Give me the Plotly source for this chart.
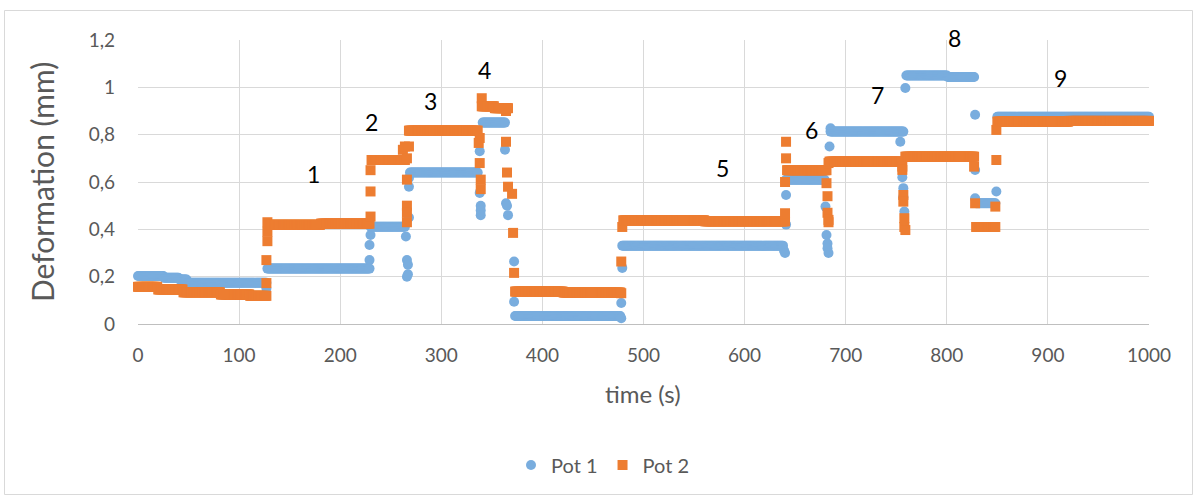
import plotly.graph_objects as go

# ---------------- data ----------------
# Pot 1: plateau segments (start s, end s, level mm)
pot1_step_start = [0, 26, 41, 49, 128, 230, 269, 341, 373, 479, 641, 685, 760, 801, 829, 850]
pot1_step_end = [25, 40, 48, 127, 229, 264, 336, 363, 477, 638, 679, 757, 800, 827, 848, 1000]
pot1_step_level = [0.203, 0.195, 0.188, 0.174, 0.234, 0.411, 0.64, 0.851, 0.034, 0.331,
                   0.61, 0.813, 1.05, 1.044, 0.51, 0.876]
# Pot 1: isolated readings during load changes
pot1_jump_t = [127, 229, 229, 230, 265, 266, 266, 267, 267, 268, 268, 268,
               338, 338, 339, 339, 339, 363, 364, 365, 366, 372, 372,
               478, 478, 479, 639, 640, 641, 641,
               680, 681, 682, 682, 683, 684, 685,
               754, 756, 757, 757, 758, 759, 828, 828, 828, 849]
pot1_jump_v = [0.15, 0.27, 0.334, 0.376, 0.37, 0.27, 0.2, 0.21, 0.25, 0.45, 0.58, 0.617,
               0.73, 0.554, 0.5, 0.48, 0.46, 0.736, 0.51, 0.5, 0.46, 0.264, 0.094,
               0.024, 0.089, 0.237, 0.31, 0.3, 0.42, 0.545,
               0.496, 0.376, 0.34, 0.32, 0.3, 0.75, 0.827,
               0.77, 0.62, 0.574, 0.538, 0.475, 0.997, 0.884, 0.651, 0.531, 0.56]

# Pot 2: plateau segments
pot2_step_start = [0, 20, 45, 82, 111, 129, 181, 231, 268, 340, 353, 373, 421, 480, 561,
                   642, 684, 759, 829, 850, 921]
pot2_step_end = [19, 44, 81, 110, 127, 180, 229, 264, 336, 352, 366, 420, 477, 560, 640,
                 681, 755, 827, 848, 920, 1000]
pot2_step_level = [0.157, 0.146, 0.134, 0.125, 0.119, 0.419, 0.424, 0.693, 0.817, 0.92,
                   0.912, 0.137, 0.133, 0.438, 0.434, 0.65, 0.686, 0.707, 0.41, 0.855, 0.858]
# Pot 2: isolated readings during load changes
pot2_jump_t = [127, 127, 128, 128, 128, 230, 230, 230,
               262, 264, 266, 266, 266, 266, 266, 268,
               337, 338, 338, 339, 339, 340,
               364, 364, 365, 366, 370, 371, 372,
               478, 478, 479, 640, 640, 641, 641,
               681, 682, 682, 683, 683, 683,
               756, 756, 757, 757, 758, 758, 759,
               827, 828, 848, 849, 849]
pot2_jump_v = [0.173, 0.27, 0.35, 0.39, 0.43, 0.454, 0.56, 0.65,
               0.736, 0.75, 0.7, 0.61, 0.5, 0.47, 0.43, 0.75,
               0.765, 0.786, 0.68, 0.61, 0.57, 0.954,
               0.9, 0.77, 0.64, 0.58, 0.55, 0.385, 0.216,
               0.13, 0.264, 0.41, 0.468, 0.6, 0.7, 0.77,
               0.595, 0.54, 0.47, 0.44, 0.43, 0.68,
               0.665, 0.651, 0.545, 0.517, 0.447, 0.41, 0.397,
               0.665, 0.51, 0.496, 0.693, 0.82]

# Load step labels
label_text = ["1", "2", "3", "4", "5", "6", "7", "8", "9"]
label_x = [174, 230.5, 289, 343, 578.6, 665.7, 731, 808, 912]
label_y = [0.634, 0.854, 0.943, 1.074, 0.66, 0.82, 0.968, 1.2, 1.04]

y_tickvals = [0, 0.2, 0.4, 0.6, 0.8, 1.0, 1.2]
y_ticktext = ["0", "0,2", "0,4", "0,6", "0,8", "1", "1,2"]
x_tickvals = [0, 100, 200, 300, 400, 500, 600, 700, 800, 900, 1000]


def expand(starts, ends, levels, jt, jv):
    pts = []
    for s, e, v in zip(starts, ends, levels):
        for t in range(s, e + 1):
            pts.append((t, v))
    pts += list(zip(jt, jv))
    pts.sort(key=lambda p: p[0])
    return [p[0] for p in pts], [p[1] for p in pts]


p1_t, p1_v = expand(pot1_step_start, pot1_step_end, pot1_step_level, pot1_jump_t, pot1_jump_v)
p2_t, p2_v = expand(pot2_step_start, pot2_step_end, pot2_step_level, pot2_jump_t, pot2_jump_v)

FONT = "Lato"
BLUE = "#79ADDE"
ORANGE = "#ED7D31"
GREY = "#595959"

fig = go.Figure()
fig.add_trace(go.Scatter(x=p1_t, y=p1_v, mode="markers", name="Pot 1",
                         marker=dict(symbol="circle", size=10, color=BLUE),
                         cliponaxis=False))
fig.add_trace(go.Scatter(x=p2_t, y=p2_v, mode="markers", name="Pot 2",
                         marker=dict(symbol="square", size=10, color=ORANGE),
                         cliponaxis=False))

L, R, T, B = 138, 48, 40, 174
W, H = 1197, 498
pw, ph = W - L - R, H - T - B


def px(xpix):
    return (xpix - L) / pw


def py(ypix):
    return (H - B - ypix) / ph


annotations = [dict(x=x, y=y, text=t, xref="x", yref="y", showarrow=False,
                    xanchor="center", yanchor="middle",
                    yshift=(2 if t == "8" else 0),
                    font=dict(family=FONT, size=23, color="#000000"))
               for t, x, y in zip(label_text, label_x, label_y)]
annotations.append(dict(x=px(42), y=0.5, xref="paper", yref="paper", text="Deformation (mm)",
                        textangle=-90, showarrow=False, xanchor="center", yanchor="middle",
                        font=dict(family=FONT, size=30, color=GREY)))
annotations.append(dict(x=px(643), y=py(394), xref="paper", yref="paper", text="time (s)",
                        showarrow=False, xanchor="center", yanchor="middle",
                        font=dict(family=FONT, size=24, color=GREY)))

fig.update_layout(
    width=W, height=H,
    margin=dict(l=L, r=R, t=T, b=B),
    paper_bgcolor="white", plot_bgcolor="white",
    font=dict(family=FONT, size=19, color=GREY),
    showlegend=True,
    legend=dict(orientation="h", x=px(603), xanchor="center", y=py(465), yanchor="middle",
                font=dict(family=FONT, size=20, color=GREY), itemwidth=30,
                bgcolor="rgba(0,0,0,0)"),
    annotations=annotations,
    shapes=[dict(type="rect", xref="paper", yref="paper",
                 x0=px(4.5), x1=px(1192.5), y0=py(494.5), y1=py(10.5),
                 line=dict(color="#d9d9d9", width=1), fillcolor="rgba(0,0,0,0)", layer="below")],
)
fig.update_xaxes(range=[0, 1000], tickvals=x_tickvals, showgrid=True, gridcolor="#d9d9d9",
                 gridwidth=1, zeroline=False, showline=True, linecolor="#bfbfbf", linewidth=1,
                 ticks="", ticklabelstandoff=14, tickfont=dict(family=FONT, size=19, color=GREY))
fig.update_yaxes(range=[0, 1.2], tickvals=y_tickvals, ticktext=y_ticktext, showgrid=True,
                 gridcolor="#d9d9d9", gridwidth=1, zeroline=False, showline=False,
                 ticks="", ticklabelstandoff=22, tickfont=dict(family=FONT, size=19, color=GREY))

fig.write_html("out.html")
